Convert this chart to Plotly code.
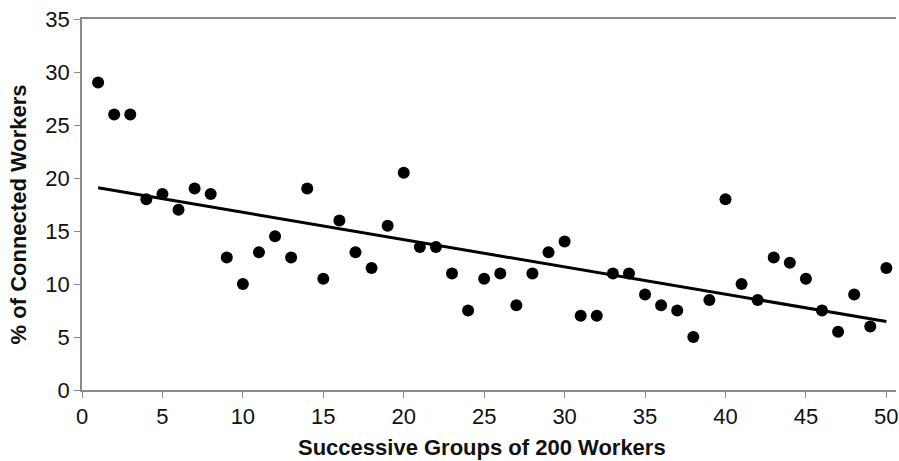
import numpy as np
import plotly.graph_objects as go

groups = list(range(1, 51))
pct_connected = [29, 26, 26, 18, 18.5, 17, 19, 18.5, 12.5, 10,
                 13, 14.5, 12.5, 19, 10.5, 16, 13, 11.5, 15.5, 20.5,
                 13.5, 13.5, 11, 7.5, 10.5, 11, 8, 11, 13, 14,
                 7, 7, 11, 11, 9, 8, 7.5, 5, 8.5, 18,
                 10, 8.5, 12.5, 12, 10.5, 7.5, 5.5, 9, 6, 11.5]
x_ticks = [0, 5, 10, 15, 20, 25, 30, 35, 40, 45, 50]
y_ticks = [0, 5, 10, 15, 20, 25, 30, 35]
x_title = "Successive Groups of 200 Workers"
y_title = "% of Connected Workers"

slope, intercept = np.polyfit(groups, pct_connected, 1)
trend_x = [groups[0], groups[-1]]
trend_y = [intercept + slope * v for v in trend_x]

FONT = "Liberation Sans, Arial, sans-serif"
AXIS_GRAY = "#8a8a8a"
TXT = "#111111"

fig = go.Figure()
fig.add_trace(go.Scatter(x=groups, y=pct_connected, mode="markers",
                         marker=dict(color="black", size=12),
                         showlegend=False, hoverinfo="x+y"))
fig.add_trace(go.Scatter(x=trend_x, y=trend_y, mode="lines",
                         line=dict(color="black", width=3),
                         showlegend=False, hoverinfo="skip"))

fig.update_layout(
    width=899, height=461,
    margin=dict(l=82, r=0, t=19, b=71),
    paper_bgcolor="white", plot_bgcolor="white",
    font=dict(family=FONT, color=TXT),
    xaxis=dict(range=[0, 50.6], tickvals=x_ticks, ticks="outside", ticklen=6,
               tickcolor=AXIS_GRAY, showline=True, linecolor=AXIS_GRAY,
               linewidth=1.5, mirror=True, showgrid=False, zeroline=False,
               ticklabeloverflow="allow",
               tickfont=dict(size=22, family=FONT, color=TXT)),
    yaxis=dict(range=[0, 35], tickvals=y_ticks, ticks="outside", ticklen=6,
               tickcolor=AXIS_GRAY, showline=True, linecolor=AXIS_GRAY,
               linewidth=1.5, showgrid=False, zeroline=False,
               ticklabeloverflow="allow",
               tickfont=dict(size=22, family=FONT, color=TXT)),
    annotations=[
        dict(text="<b>" + x_title + "</b>", xref="paper", yref="paper",
             x=0.491, y=-0.156, xanchor="center", yanchor="middle",
             showarrow=False, font=dict(size=22, family=FONT, color=TXT)),
        dict(text="<b>" + y_title + "</b>", xref="paper", yref="paper",
             x=-0.078, y=0.472, xanchor="center", yanchor="middle",
             textangle=-90, showarrow=False,
             font=dict(size=22, family=FONT, color=TXT)),
    ],
)

fig.write_html("out.html",
               config={"displayModeBar": False},
               post_script="document.body.style.margin='0px';"
                           "document.body.style.overflow='hidden';")
